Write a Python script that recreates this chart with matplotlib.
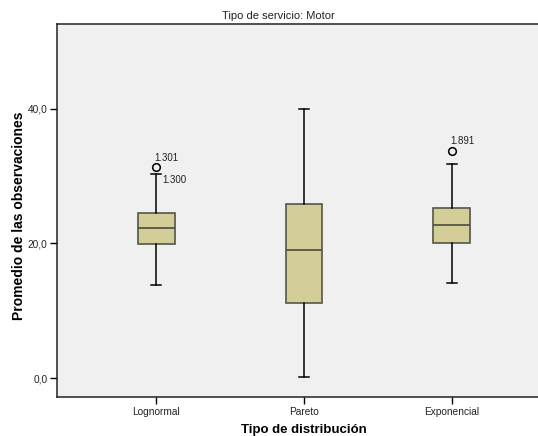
import matplotlib
matplotlib.use("Agg")
import matplotlib.pyplot as plt

plt.rcParams['font.family'] = ['Liberation Sans', 'DejaVu Sans']

categories = ["Lognormal", "Pareto", "Exponencial"]
whisker_low = [13.8, 0.2, 14.1]
q1 = [19.9, 11.2, 20.1]
median = [22.35, 19.0, 22.8]
q3 = [24.5, 25.9, 25.3]
whisker_high = [30.3, 40.0, 31.8]
outliers = [[31.3, 30.4], [], [33.8]]
outlier_labels = [["1.301", "1.300"], [], ["1.891"]]
yticks = [0, 20, 40]
ytick_labels = ["0,0", "20,0", "40,0"]

fig = plt.figure(figsize=(5.38, 4.36), dpi=100)
ax = fig.add_axes([57/538, 1-397/436, (551-57)/538, (397-24)/436])
ax.set_facecolor('#f0f0f0')

stats = []
for i, c in enumerate(categories):
    stats.append(dict(label=c, whislo=whisker_low[i], q1=q1[i], med=median[i],
                      q3=q3[i], whishi=whisker_high[i], fliers=[]))
pos = list(range(len(categories)))
ax.bxp(stats, positions=pos, widths=0.25, patch_artist=True, showfliers=False,
       boxprops=dict(facecolor='#d3ce98', edgecolor='#555548', linewidth=1.2),
       medianprops=dict(color='#4a4a40', linewidth=1.2),
       whiskerprops=dict(color='black', linewidth=1.1),
       capprops=dict(color='black', linewidth=1.1), capwidths=0.068)

for i, (vals, labs) in enumerate(zip(outliers, outlier_labels)):
    if vals:
        ax.plot([i], [vals[0]], 'o', mfc='none', mec='black', ms=5.5, mew=1.1)
    for j, (v, l) in enumerate(zip(vals, labs)):
        if j == 0:
            ax.text(i - 0.01, v + 1.45, l, fontsize=7, color='#222222', ha='left', va='center')
        else:
            ax.text(i + 0.04, v - 1.0, l, fontsize=7, color='#222222', ha='left', va='center')

ax.set_xlim(-0.669, 2.669)
ax.set_ylim(-2.8, 52.6)
ax.set_xticks(pos)
ax.set_xticklabels(categories, fontsize=7.3)
ax.set_yticks(yticks)
ax.set_yticklabels(ytick_labels, fontsize=7.3)
ax.tick_params(direction='out', length=5, width=1, colors='black', labelcolor='#222222', pad=2)
for s in ax.spines.values():
    s.set_color('#222222')
    s.set_linewidth(1.1)

fig.text(19/538, 1-216/436, "Promedio de las observaciones", rotation=90, fontsize=10,
         fontweight='bold', ha='center', va='center')
fig.text(304/538, 1-430/436, "Tipo de distribución", fontsize=9.5,
         fontweight='bold', ha='center', va='center')
fig.text(278/538, 1-16/436, "Tipo de servicio: Motor", fontsize=8,
         ha='center', va='center', color='#222222')

fig.savefig("out.png", dpi=100, facecolor='white')
